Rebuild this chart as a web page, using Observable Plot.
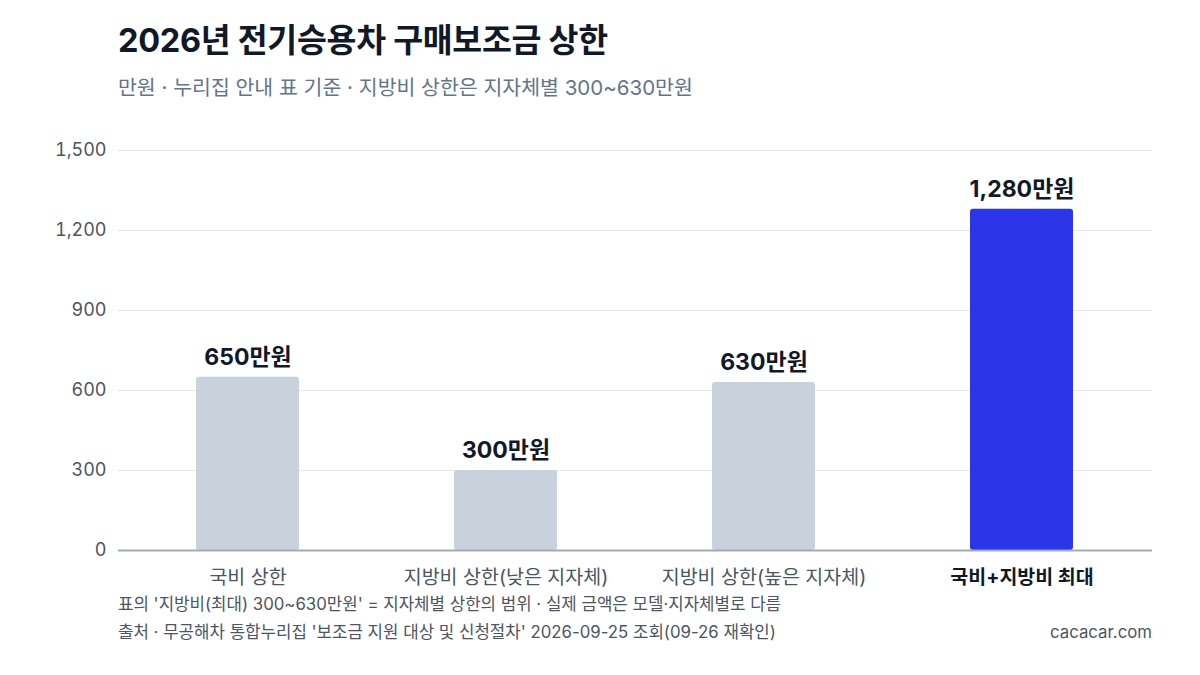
<!DOCTYPE html>
<html><head><meta charset="utf-8">
<script src="https://cdn.jsdelivr.net/npm/d3@7"></script>
<script src="https://cdn.jsdelivr.net/npm/@observablehq/plot@0.6"></script>
<style>
html,body{margin:0;padding:0;background:#fff;}
body{width:1200px;height:675px;position:relative;overflow:hidden;font-family:Inter,"Noto Sans CJK KR",sans-serif;}
#title{position:absolute;left:118px;top:21px;font-size:32.5px;font-weight:700;color:#111827;letter-spacing:-0.3px;line-height:1.2;}
#subtitle{position:absolute;left:118px;top:76px;font-size:20.5px;color:#64748b;line-height:1.2;}
#chart{position:absolute;left:0;top:120px;}
.foot{position:absolute;font-size:16.8px;color:#4b5563;line-height:1.2;}
</style></head>
<body>
<div id="title">2026년 전기승용차 구매보조금 상한</div>
<div id="subtitle">만원 · 누리집 안내 표 기준 · 지방비 상한은 지자체별 300~630만원</div>
<div id="chart"></div>
<div class="foot" style="left:118px;top:594px;">표의 '지방비(최대) 300~630만원' = 지자체별 상한의 범위 · 실제 금액은 모델·지자체별로 다름</div>
<div class="foot" style="left:118px;top:622px;">출처 · 무공해차 통합누리집 '보조금 지원 대상 및 신청절차' 2026-09-25 조회(09-26 재확인)</div>
<div class="foot" style="right:48px;top:622px;">cacacar.com</div>
<script>
const categories = ["국비 상한", "지방비 상한(낮은 지자체)", "지방비 상한(높은 지자체)", "국비+지방비 최대"];
const values = [650, 300, 630, 1280];
const valueLabels = ["650만원", "300만원", "630만원", "1,280만원"];
const yTicks = [0, 300, 600, 900, 1200, 1500];
const highlight = "국비+지방비 최대";

const data = categories.map((c, i) => ({cat: c, value: values[i], label: valueLabels[i]}));

const chart = Plot.plot({
  width: 1200,
  height: 475,
  marginLeft: 118,
  marginRight: 48,
  marginTop: 30,
  marginBottom: 45,
  style: {fontFamily: 'Inter, "Noto Sans CJK KR", sans-serif', fontSize: "18px", color: "#4b5563", background: "#fff"},
  x: {domain: categories, paddingInner: 0.6, paddingOuter: 0.3, label: null},
  y: {domain: [0, 1500], label: null},
  marks: [
    Plot.gridY(yTicks, {stroke: "#e5e7eb", strokeOpacity: 1, strokeWidth: 1}),
    Plot.barY(data, {x: "cat", y: "value", fill: d => d.cat === highlight ? "#2b36e8" : "#c9d1dc", rx: 3}),
    Plot.ruleY([0], {stroke: "#a3aab6", strokeWidth: 2}),
    Plot.text(data, {x: "cat", y: "value", text: "label", dy: -20, fontSize: 23, fontWeight: 700, fill: "#111827"}),
    Plot.axisY({ticks: yTicks, tickSize: 0, tickPadding: 12, tickFormat: d3.format(","), fill: "#4b5563", fontSize: 18, label: null}),
    Plot.axisX(categories.filter(c => c !== highlight), {tickSize: 0, tickPadding: 20, label: null, fontSize: 19.5, fill: "#4b5563"}),
    Plot.axisX([highlight], {tickSize: 0, tickPadding: 20, label: null, fontSize: 19.5, fill: "#111827", fontWeight: 700})
  ]
});
document.getElementById("chart").appendChild(chart);
</script>
</body></html>
